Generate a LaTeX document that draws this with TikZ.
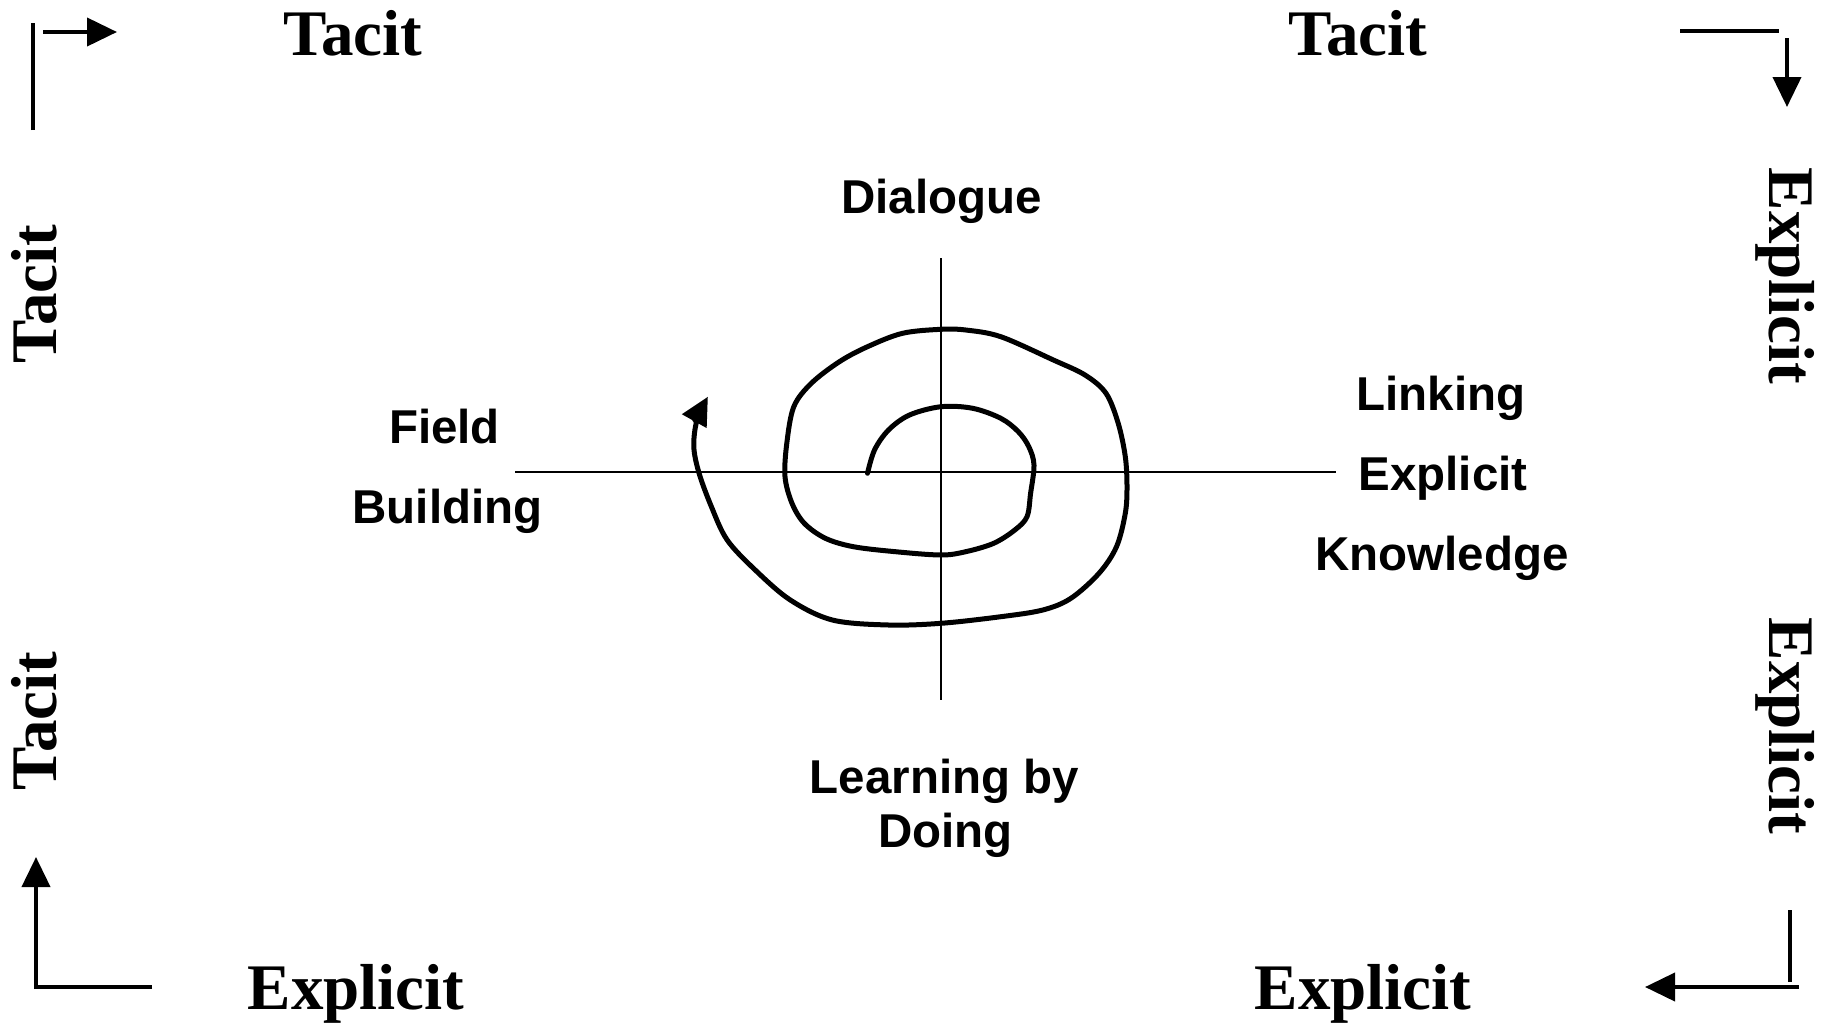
\documentclass[tikz,border=0pt]{standalone}
\usepackage{fontspec}
\setmainfont{Liberation Serif}
\newfontfamily\sansfam{Liberation Sans}
\usetikzlibrary{arrows.meta}
\begin{document}
\begin{tikzpicture}[x=1pt,y=-1pt,
  serlab/.style={inner sep=0pt, anchor=base, font=\fontsize{65}{72}\selectfont\bfseries},
  sanlab/.style={inner sep=0pt, anchor=base, font=\sansfam\fontsize{47.5}{54}\selectfont\bfseries},
  cornerline/.style={line width=4pt},
  cornerarrow/.style={line width=4pt, -{Triangle[length=30pt,width=28pt]}},
  axisline/.style={line width=2pt},
  spiralline/.style={line width=5pt, line join=round, line cap=round, -{Triangle[length=28pt,width=27pt]}}]
\useasboundingbox[fill=white] (0,0) rectangle (1821,1023);

% outer labels
\node[serlab] (ttl) at (353,55) {Tacit};
\node[serlab] (ttr) at (1358,55) {Tacit};
\node[serlab] (ebl) at (356,1009) {Explicit};
\node[serlab] (ebr) at (1363,1009) {Explicit};
\node[serlab, rotate=90] (tlu) at (56,294) {Tacit};
\node[serlab, rotate=90] (tll) at (56,721) {Tacit};
\node[serlab, rotate=-90] (eru) at (1769,276) {Explicit};
\node[serlab, rotate=-90] (erl) at (1769,726) {Explicit};

% corner arrows
\coordinate (a1) at (33,130); \coordinate (a2) at (33,23);
\coordinate (a3) at (43,32);  \coordinate (a4) at (117,32);
\draw[cornerline] (a1) -- (a2);
\draw[cornerarrow] (a3) -- (a4);
\coordinate (b1) at (1680,31); \coordinate (b2) at (1779,31);
\coordinate (b3) at (1787,38); \coordinate (b4) at (1787,107);
\draw[cornerline] (b1) -- (b2);
\draw[cornerarrow] (b3) -- (b4);
\coordinate (c1) at (1790,910); \coordinate (c2) at (1790,982);
\coordinate (c3) at (1799,987); \coordinate (c4) at (1645,987);
\draw[cornerline] (c1) -- (c2);
\draw[cornerarrow] (c3) -- (c4);
\coordinate (d1) at (152,987); \coordinate (d2) at (34,987);
\coordinate (d3) at (36,989); \coordinate (d4) at (36,857);
\draw[cornerline] (d1) -- (d2);
\draw[cornerarrow] (d3) -- (d4);

% axes
\coordinate (hl) at (515,471.5); \coordinate (hr) at (1336,471.5);
\coordinate (vt) at (941,258); \coordinate (vb) at (941,700);
\draw[axisline] (hl) -- (hr);
\draw[axisline] (vt) -- (vb);

% central labels
\node[sanlab] (dia) at (941.5,213) {Dialogue};
\node[sanlab] (field) at (444.5,443) {Field};
\node[sanlab] (build) at (447.5,523) {Building};
\node[sanlab] (link) at (1441,410) {Linking};
\node[sanlab] (expl) at (1443,490) {Explicit};
\node[sanlab] (know) at (1442,570) {Knowledge};
\node[sanlab] (learn) at (944.5,793) {Learning by};
\node[sanlab] (doing) at (945.5,847) {Doing};

% spiral
\draw[spiralline] plot[smooth, tension=0.55] coordinates {
(867.5,473.3) (874.5,450) (888.5,430) (909.5,415) (941,406.7) (972.7,408.3)
(1000.8,418.3) (1018.3,431.7) (1028.8,446.7) (1034,465) (1030.6,493.3)
(1027,516.7) (1014.8,530) (993.7,543.3) (965.7,551.7) (941,555) (895.5,551.7)
(853.4,546.7) (825.4,538.3) (804.3,523.3) (792,503.3) (785,476.7) (786.8,443.3)
(793.8,406.7) (811.3,383.3) (839.4,361.7) (867.5,346.7) (902.5,333.3) (941,329.3)
(965.7,330) (1000.8,336.7) (1053.4,360) (1085,375) (1106,393.3) (1118.2,423.3)
(1125.3,456.7) (1127,486.7) (1125.3,513.3) (1116.5,546.7) (1099,573.3)
(1070.9,598.3) (1042.8,610) (1000.8,616.7) (941,623.3) (888.5,625) (832.4,620)
(790.3,600) (755.2,570) (727.2,540) (711.4,506.7) (699.1,473.3) (693.8,446.7)
(697,420) (707.9,396.7)};
\end{tikzpicture}
\end{document}
